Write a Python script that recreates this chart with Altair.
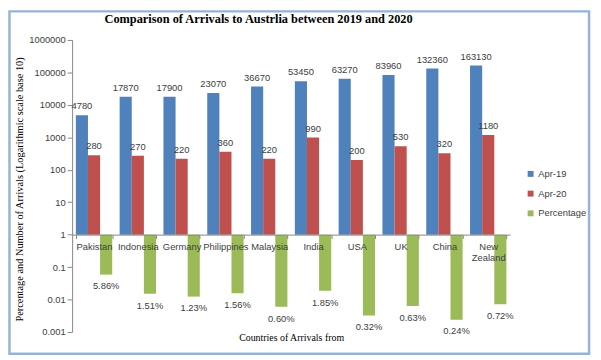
import altair as alt
import pandas as pd

countries = ["Pakistan", "Indonesia", "Germany", "Philippines", "Malaysia",
             "India", "USA", "UK", "China", "New Zealand"]
apr19 = [4780, 17870, 17900, 23070, 36670, 53450, 63270, 83960, 132360, 163130]
apr20 = [280, 270, 220, 360, 220, 990, 200, 530, 320, 1180]
pct = [5.86, 1.51, 1.23, 1.56, 0.60, 1.85, 0.32, 0.63, 0.24, 0.72]
series = ["Apr-19", "Apr-20", "Percentage"]
colors = ["#4F81BD", "#C0504D", "#9BBB59"]
y_ticks = [0.001, 0.01, 0.1, 1, 10, 100, 1000, 10000, 100000, 1000000]

rows = []
for c, a, b, p in zip(countries, apr19, apr20, pct):
    rows.append({"country": c, "series": "Apr-19", "value": a, "label": str(a)})
    rows.append({"country": c, "series": "Apr-20", "value": b, "label": str(b)})
    rows.append({"country": c, "series": "Percentage", "value": p / 100,
                 "label": f"{p:.2f}%"})
df = pd.DataFrame(rows)

SANS = "Liberation Sans"
SERIF = "Liberation Serif"
GRAY = "#868686"
TXT = "#404040"

W, H = 444, 296

x = alt.X(
    "country:N", sort=countries,
    scale=alt.Scale(paddingInner=0.17, paddingOuter=0.085),
    axis=alt.Axis(
        orient="bottom", offset=-(H / 3), tickBand="extent", labelAngle=0,
        labelFont=SANS, labelFontSize=9.5, labelColor=TXT, labelPadding=3,
        labelLineHeight=11, tickSize=4, zindex=1,
        labelExpr="datum.label == 'New Zealand' ? ['New', 'Zealand'] : datum.label",
        title="Countries of Arrivals from", titleFont=SERIF, titleFontSize=10,
        titleFontWeight="normal", titleColor="#000000", titleY=107,
        titleBaseline="alphabetic",
    ),
)
xo = alt.XOffset("series:N", sort=series)
y = alt.Y(
    "value:Q",
    scale=alt.Scale(type="log", domain=[0.001, 1000000]),
    axis=alt.Axis(
        values=y_ticks, grid=False,
        labelExpr="datum.value >= 1 ? format(datum.value, 'd') : format(datum.value, '.3~f')",
        labelFont=SANS, labelFontSize=9.5, labelColor=TXT, labelPadding=2, tickSize=5,
        title="Percentage and Number of Arrivals (Logarithmic scale base 10)",
        titleFont=SERIF, titleFontSize=10.5, titleFontWeight="normal",
        titleColor="#000000", titleX=-53, titleY=151, titleBaseline="middle",
    ),
)
color = alt.Color(
    "series:N",
    scale=alt.Scale(domain=series, range=colors),
    legend=alt.Legend(
        title=None, orient="none", legendX=460, legendY=131,
        symbolType="square", symbolSize=36, symbolStrokeWidth=0,
        labelFont=SANS, labelFontSize=9.5, labelColor=TXT, rowPadding=9,
        labelOffset=3, padding=0,
    ),
)

base = alt.Chart(df).encode(x=x, xOffset=xo, y=y)

bars = base.mark_bar().encode(y2=alt.datum(1), color=color)

top_labels = base.transform_filter("datum.series != 'Percentage'").mark_text(
    baseline="bottom", dy=-4, font=SANS, fontSize=9.5, color=TXT
).encode(text="label:N")

bottom_labels = base.transform_filter("datum.series == 'Percentage'").mark_text(
    baseline="top", dy=7, font=SANS, fontSize=9.5, color=TXT
).encode(text="label:N")

frame = alt.Chart(alt.Data(values=[{"k": 1}])).mark_rect(
    filled=False, stroke="#95B3D7", strokeWidth=2.5, clip=False
).encode(
    x=alt.value(-63.5), x2=alt.value(524), y=alt.value(-29), y2=alt.value(318)
)

chart = alt.layer(frame, bars, top_labels, bottom_labels).properties(
    width=W, height=H,
    autosize="none",
    padding={"left": 65, "top": 30, "right": 84, "bottom": 26},
    title=alt.Title(
        "Comparison of Arrivals to Austrlia between 2019 and 2020",
        font=SERIF, fontSize=12.5, fontWeight="bold", color="#000000",
        anchor="middle", dx=-33, offset=-16,
    ),
).configure_view(stroke="transparent").configure_axis(
    domainColor=GRAY, tickColor=GRAY
)

chart.save("out.html", embed_options={"renderer": "svg", "actions": False})
